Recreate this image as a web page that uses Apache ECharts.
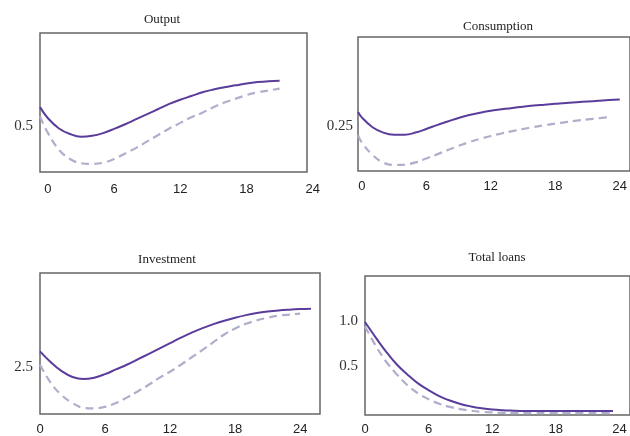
<!DOCTYPE html>
<html>
<head>
<meta charset="utf-8">
<title>Impulse responses</title>
<script src="https://cdn.jsdelivr.net/npm/echarts@6/dist/echarts.min.js"></script>
<style>
  html, body { margin: 0; padding: 0; background: #fff; }
  #chart { width: 630px; height: 436px; }
</style>
</head>
<body>
<div id="chart"></div>
<script>
// periods (quarters) for each panel
const outputPeriods = [-0.72, 0, 1, 2, 3, 4, 5, 6, 7, 8, 9, 10, 11, 12, 13, 14, 15, 16, 17, 18, 19, 20, 21]
const outputSolid = [0.70, 0.58, 0.47, 0.41, 0.38, 0.39, 0.42, 0.465, 0.515, 0.57, 0.625, 0.68, 0.735, 0.78, 0.82, 0.86, 0.89, 0.915, 0.935, 0.955, 0.97, 0.98, 0.985]
const outputDashed = [0.60, 0.42, 0.24, 0.14, 0.095, 0.088, 0.10, 0.14, 0.20, 0.26, 0.33, 0.40, 0.47, 0.53, 0.59, 0.64, 0.70, 0.75, 0.79, 0.83, 0.86, 0.88, 0.90]

const consPeriods = [-0.35, 0, 1, 2, 3, 4, 5, 6, 7, 8, 9, 10, 11, 12, 13, 14, 15, 16, 17, 18, 19, 20, 21, 22, 23, 24]
const consSolid = [0.33, 0.30, 0.245, 0.215, 0.203, 0.203, 0.215, 0.235, 0.257, 0.277, 0.297, 0.313, 0.326, 0.337, 0.345, 0.353, 0.360, 0.366, 0.371, 0.376, 0.381, 0.385, 0.389, 0.393, 0.397, 0.40]
const consDashed = [0.20, 0.16, 0.09, 0.047, 0.034, 0.036, 0.048, 0.07, 0.093, 0.117, 0.14, 0.162, 0.180, 0.196, 0.210, 0.223, 0.235, 0.246, 0.256, 0.265, 0.274, 0.282, 0.289, 0.295, 0.301]

const invPeriods = [0, 1, 2, 3, 4, 5, 6, 7, 8, 9, 10, 11, 12, 13, 14, 15, 16, 17, 18, 19, 20, 21, 22, 23, 24, 25]
const invSolid = [3.33, 2.75, 2.28, 1.97, 1.86, 1.93, 2.12, 2.37, 2.62, 2.90, 3.19, 3.48, 3.77, 4.06, 4.33, 4.57, 4.78, 4.96, 5.12, 5.26, 5.37, 5.45, 5.51, 5.55, 5.58, 5.60]
const invDashed = [2.62, 1.65, 1.00, 0.58, 0.33, 0.30, 0.38, 0.58, 0.87, 1.20, 1.54, 1.92, 2.25, 2.62, 3.02, 3.41, 3.82, 4.23, 4.55, 4.80, 4.98, 5.12, 5.23, 5.29, 5.34]

const loanPeriods = [0, 1, 2, 3, 4, 5, 6, 7, 8, 9, 10, 11, 12, 13, 14, 15, 16, 17, 18, 19, 20, 21, 22, 23.4]
const loanSolid = [0.99, 0.82, 0.66, 0.52, 0.41, 0.31, 0.235, 0.17, 0.12, 0.082, 0.055, 0.035, 0.02, 0.012, 0.008, 0.005, 0.004, 0.003, 0.003, 0.003, 0.003, 0.003, 0.003, 0.003]
const loanDashed = [0.94, 0.73, 0.55, 0.41, 0.29, 0.20, 0.135, 0.085, 0.05, 0.025, 0.008, -0.004, -0.012, -0.017, -0.02, -0.02, -0.02, -0.02, -0.02, -0.02, -0.02, -0.02, -0.02, -0.02]

const xTicks = [0, 6, 12, 18, 24]
const titles = ['Output', 'Consumption', 'Investment', 'Total loans']

const solidColor = '#5a3d9a'
const dashedColor = '#b0aecb'
const boxColor = '#666'

const chart = echarts.init(document.getElementById('chart'))

// panel layout: data grid spans the x range [xMin, xMax]; box grid draws the frame
const panels = [
  { data: { left: 40, top: 33, width: 276, height: 139 }, box: { left: 40, top: 33, width: 267, height: 139 },
    xMin: -0.72, xMax: 24.3, yMin: 0, yMax: 1.5, yLabels: [0.5], xMargin: 11, yMargin: 7,
    periods: outputPeriods, solid: outputSolid, dashed: outputDashed, title: { x: 157, y: 8 } },
  { data: { left: 358, top: 37, width: 277, height: 134 }, box: { left: 358, top: 37, width: 290, height: 134 },
    xMin: -0.35, xMax: 24.6, yMin: 0, yMax: 0.75, yLabels: [0.25], xMargin: 9, yMargin: 5,
    periods: consPeriods, solid: consSolid, dashed: consDashed, title: { x: 493, y: 15 } },
  { data: { left: 40, top: 273, width: 271, height: 141 }, box: { left: 40, top: 273, width: 280, height: 141 },
    xMin: 0, xMax: 25, yMin: 0, yMax: 7.5, yLabels: [2.5], xMargin: 9, yMargin: 7,
    periods: invPeriods, solid: invSolid, dashed: invDashed, title: { x: 162, y: 248 } },
  { data: { left: 365, top: 276, width: 274, height: 139 }, box: { left: 365, top: 276, width: 290, height: 139 },
    xMin: 0, xMax: 25, yMin: -0.04, yMax: 1.5, yLabels: [0.5, 1.0], xMargin: 8, yMargin: 7,
    periods: loanPeriods, solid: loanSolid, dashed: loanDashed, title: { x: 492, y: 246 } }
]

const grid = []
const xAxis = []
const yAxis = []
const series = []

panels.forEach((p, i) => {
  grid.push({ ...p.data, show: false })
  grid.push({ ...p.box, show: true, borderColor: boxColor, borderWidth: 1.5, backgroundColor: 'transparent' })

  xAxis.push({
    type: 'value', gridIndex: 2 * i, min: p.xMin, max: p.xMax,
    axisLine: { show: false }, axisTick: { show: false }, splitLine: { show: false },
    axisLabel: { customValues: xTicks, margin: p.xMargin, fontFamily: 'Liberation Sans', fontSize: 13, color: '#222' }
  })
  xAxis.push({ type: 'value', gridIndex: 2 * i + 1, show: false })

  yAxis.push({
    type: 'value', gridIndex: 2 * i, min: p.yMin, max: p.yMax,
    axisLine: { show: false }, axisTick: { show: false }, splitLine: { show: false }, axisLabel: { show: false }
  })
  yAxis.push({
    type: 'value', gridIndex: 2 * i + 1, min: p.yMin, max: p.yMax,
    axisLine: { show: false }, axisTick: { show: false }, splitLine: { show: false },
    axisLabel: {
      customValues: p.yLabels, margin: p.yMargin,
      formatter: v => (p.yLabels.length > 1 ? v.toFixed(1) : String(v)),
      fontFamily: 'Liberation Serif', fontSize: 15, color: '#333'
    }
  })

  series.push({
    type: 'line', xAxisIndex: 2 * i, yAxisIndex: 2 * i,
    data: p.dashed.map((v, k) => [p.periods[k], v]),
    smooth: 0.4, showSymbol: false, silent: true,
    lineStyle: { color: dashedColor, width: 2.2, type: [8, 5] }
  })
  series.push({
    type: 'line', xAxisIndex: 2 * i, yAxisIndex: 2 * i,
    data: p.solid.map((v, k) => [p.periods[k], v]),
    smooth: 0.4, showSymbol: false, silent: true,
    lineStyle: { color: solidColor, width: 2 }
  })
})

chart.setOption({
  animation: false,
  title: panels.map((p, i) => ({
    text: titles[i], left: p.title.x, top: p.title.y, textAlign: 'center',
    textStyle: { fontFamily: 'Liberation Serif', fontSize: 13, fontWeight: 'normal', color: '#222' }
  })),
  grid: grid,
  xAxis: xAxis,
  yAxis: yAxis,
  series: series
})
</script>
</body>
</html>
